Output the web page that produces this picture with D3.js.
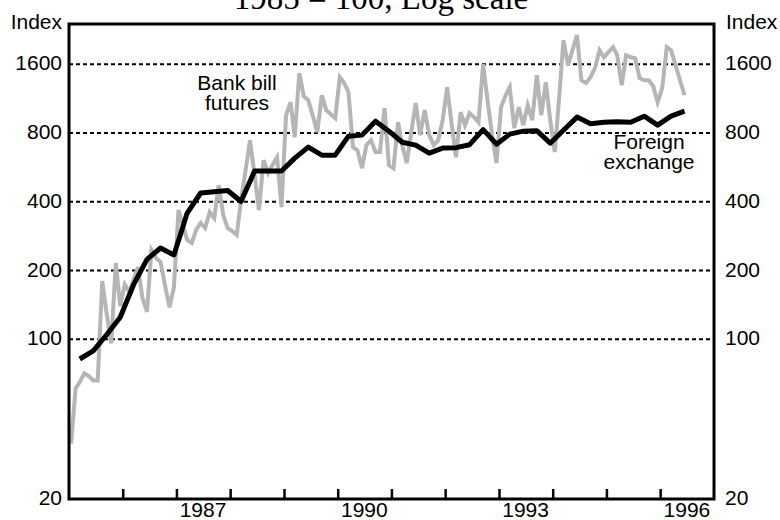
<!DOCTYPE html>
<html>
<head>
<meta charset="utf-8">
<script src="https://cdn.jsdelivr.net/npm/d3@7"></script>
<style>
  body { margin: 0; background: #fff; }
  svg { display: block; }
  text { font-family: "Liberation Sans", Arial, sans-serif; font-size: 21px; fill: #000; }
  .title { font-family: "Liberation Serif", "Times New Roman", serif; font-size: 33px; }
</style>
</head>
<body>
<div id="chart"></div>
<script>
// Bank bill futures turnover, monthly from Jan 1985 (1985 = 100)
const bankBillFutures = [
  35, 61, 65, 71, 69, 66, 66, 180, 128, 96, 216, 140,
  174, 161, 182, 207, 152, 132, 246, 227, 218, 173, 138, 169,
  368, 313, 272, 264, 301, 323, 307, 360, 339, 473, 350, 307,
  298, 286, 407, 550, 744, 523, 368, 609, 534, 579, 627, 379,
  958, 1091, 767, 1462, 1160, 1114, 958, 807, 1171, 1007, 967, 929,
  1404, 1322, 1207, 694, 673, 561, 708, 744, 660, 660, 1028, 579,
  561, 892, 708, 590, 799, 1081, 783, 1007, 783, 708, 744, 911,
  1270, 866, 627, 987, 866, 977, 939, 892, 1601, 1114, 783, 590,
  1038, 1171, 1270, 840, 1038, 866, 1059, 911, 1433, 958, 1335, 911,
  660, 1171, 2039, 1584, 1843, 2144, 1362, 1322, 1404, 1538, 1843, 1717,
  1806, 1900, 1752, 1295, 1752, 1717, 1701, 1390, 1362, 1362, 1283, 1091,
  1257, 1900, 1843, 1584, 1362, 1171
];

// Foreign exchange turnover, quarterly from 1985 Q1 (1985 = 100)
const foreignExchange = [
  82, 89, 105, 125,
  173, 224, 251, 234,
  357, 437, 443, 448,
  401, 545, 545, 545,
  621, 694, 640, 640,
  775, 783, 901, 815,
  729, 708, 653, 687,
  690, 711, 828, 715,
  791, 815, 819, 722,
  823, 939, 879, 892,
  897, 892, 948, 866,
  948, 997
];

const yTickValues = [20, 100, 200, 400, 800, 1600];
const gridValues = [100, 200, 400, 800, 1600];
const yearTicks = d3.range(1986, 1997);
const yearLabels = [1987, 1990, 1993, 1996];

const WIDTH = 780, HEIGHT = 520;
const MARGIN = { LEFT: 69, RIGHT: 66, TOP: 24, BOTTOM: 21 };
const W = WIDTH - MARGIN.LEFT - MARGIN.RIGHT;
const H = HEIGHT - MARGIN.TOP - MARGIN.BOTTOM;

const svg = d3.select("#chart").append("svg")
  .attr("width", WIDTH)
  .attr("height", HEIGHT);

const g = svg.append("g")
  .attr("transform", `translate(${MARGIN.LEFT},${MARGIN.TOP})`);

// scales
const x = d3.scaleTime()
  .domain([new Date(1985, 0, 1), new Date(1997, 0, 1)])
  .range([0, W]);

const y = d3.scaleLog()
  .domain([20, 2400])
  .range([H, 0]);

// title (top part runs off the page)
svg.append("text")
  .attr("class", "title")
  .attr("x", 381)
  .attr("y", 9)
  .attr("text-anchor", "middle")
  .text("1985 = 100, Log scale");

// dotted grid lines
g.append("g")
  .selectAll("line")
  .data(gridValues)
  .join("line")
    .attr("x1", 0)
    .attr("x2", W)
    .attr("y1", d => y(d))
    .attr("y2", d => y(d))
    .attr("stroke", "#000")
    .attr("stroke-width", 2)
    .attr("stroke-dasharray", "4,3");

// y axes on both sides
const fmt = d3.format("d");
const yLeft = g.append("g")
  .call(d3.axisLeft(y).tickValues(yTickValues).tickFormat(fmt).tickSize(0).tickPadding(7));
const yRight = g.append("g")
  .attr("transform", `translate(${W},0)`)
  .call(d3.axisRight(y).tickValues(yTickValues).tickFormat(fmt).tickSize(0).tickPadding(11));
[yLeft, yRight].forEach(ax => {
  ax.attr("font-size", null).attr("font-family", null);
  ax.select(".domain").remove();
  ax.selectAll("text").attr("dy", "0.27em");
});

// x axis: ticks at year boundaries pointing up
const xAxis = g.append("g")
  .attr("transform", `translate(0,${H})`)
  .call(d3.axisBottom(x)
    .tickValues(yearTicks.map(yr => new Date(yr, 0, 1)))
    .tickSize(-10)
    .tickFormat(""));
xAxis.select(".domain").remove();
xAxis.selectAll("line").attr("stroke", "#000").attr("stroke-width", 2.5);

// year labels centred in the year
g.append("g")
  .selectAll("text")
  .data(yearLabels)
  .join("text")
    .attr("x", d => x(new Date(d, 6, 1)))
    .attr("y", H + 18)
    .attr("text-anchor", "middle")
    .text(d => d);

// "Index" unit labels
svg.append("text").attr("x", 62).attr("y", 29).attr("text-anchor", "end").text("Index");
svg.append("text").attr("x", 726).attr("y", 29).attr("text-anchor", "start").text("Index");

// lines
const bankData = bankBillFutures.map((v, i) => ({ date: new Date(1985, i, 15), value: v }));
const fxData = foreignExchange.map((v, i) => ({ date: new Date(1985, 3 * i + 2, 15), value: v }));

const line = d3.line()
  .x(d => x(d.date))
  .y(d => y(d.value));

g.append("path")
  .datum(bankData)
  .attr("fill", "none")
  .attr("stroke", "#b5b5b5")
  .attr("stroke-width", 4)
  .attr("stroke-linejoin", "miter")
  .attr("d", line);

g.append("path")
  .datum(fxData)
  .attr("fill", "none")
  .attr("stroke", "#000")
  .attr("stroke-width", 5)
  .attr("stroke-linejoin", "round")
  .attr("d", line);

// frame
g.append("rect")
  .attr("width", W)
  .attr("height", H)
  .attr("fill", "none")
  .attr("stroke", "#000")
  .attr("stroke-width", 3);

// series labels, one text per line
const labels = [
  { lines: ["Bank bill", "futures"], x: 237, y: 90 },
  { lines: ["Foreign", "exchange"], x: 649, y: 149 }
];
labels.forEach(l => {
  l.lines.forEach((s, i) => {
    svg.append("text")
      .attr("x", l.x)
      .attr("y", l.y + i * 20)
      .attr("text-anchor", "middle")
      .text(s);
  });
});
</script>
</body>
</html>
